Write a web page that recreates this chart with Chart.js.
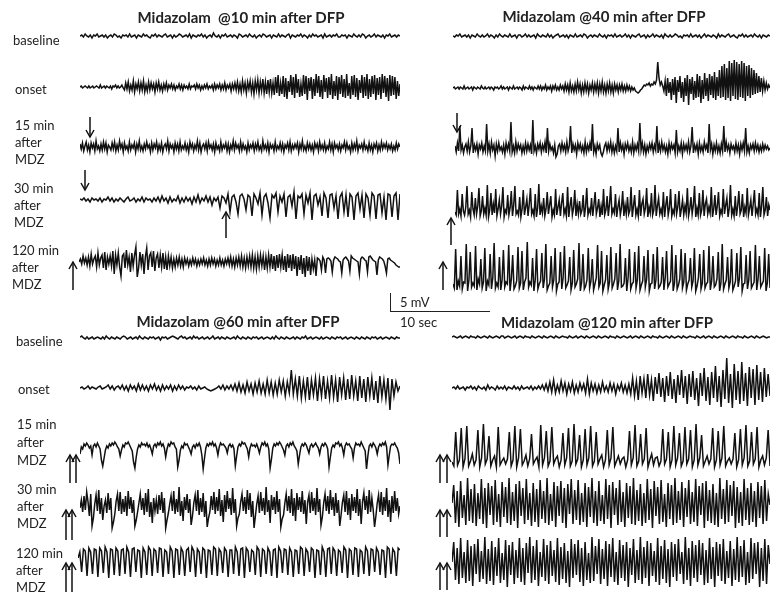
<!DOCTYPE html>
<html><head><meta charset="utf-8">
<script src="https://cdn.jsdelivr.net/npm/chart.js@4.4.1/dist/chart.umd.min.js"></script>
<style>
html,body{margin:0;padding:0;background:#fff;}
#fig{position:relative;width:770px;height:593px;overflow:hidden;background:#fff;font-family:Lato,"Open Sans",sans-serif;color:#222;}
.tr{position:absolute;}
.lab{position:absolute;font-size:13px;line-height:15px;white-space:pre;transform:translateY(-50%);}
.ttl{position:absolute;font-size:15px;font-weight:bold;white-space:pre;transform:translate(-50%,-50%);}
#arrows{position:absolute;left:0;top:0;}
</style></head>
<body><div id="fig"><svg id="arrows" width="770" height="593"></svg></div>
<script>
// ---- Traces (amplitude units: 0.25 mV, positive up; 5 mV scale bar = 20 units) ----
const TL_BASE=[0,1,-1,2,0,-1,1,-2,1,0,2,-1,0,1,-1,1,-2,0,1,-1,2,1,-1,0,-2,1,0,1,-1,2,-1,0,1,-2,1,0,-1,2,0,1,-1,-2,1,0,2,-1,1,0,-1,1,2,-1,0,1,-2,1,-1,0,2,1,-1,0,1,-1,2,-2,1,0,-1,1,0,2,-1,1,-2,0,1,-1,3,0,-1,1,-2,1,0,2,-1,0,1,-1,1,0,-2,2,1,-1,0,1,-1,2,0,-1,1,-2,0,1,-1,2,1,-1,0,1,-2,1,0,-1,2,-1,1,0,-1,1,2,-2,1,0,-1,1,0,2,-1,1,0,-2,1,-1,2,0,1,-1,0,1,-2,2,-1,0,1,-1,1,0,2,-1,-1,1,0,1,-2,1,0,-1,2,0,-1,1,-1,2,1,-2,0,1,-1,0,2,-1,1,0,-1,1,-2,1,0,2,-1,0,1,-1,1,0];
const TL_ONSET=[0,1,-1,0,1,0,-1,1,-1,0,1,-1,0,1,0,-1,2,-1,0,1,-1,1,0,-1,1,-2,1,0,2,-1,1,-1,0,2,-1,-3,4,-2,5,-4,2,-3,6,-5,3,-2,5,-4,4,-3,6,-5,2,-4,5,-3,4,-2,3,-5,4,-2,5,-3,2,-4,3,-2,4,-3,2,-1,3,-2,2,-3,1,-1,3,-2,2,-3,2,-1,1,-2,3,-2,1,0,2,-2,3,-1,2,-3,1,-2,2,-1,3,-2,1,-1,2,-3,3,-2,2,-1,3,-3,2,-2,4,-3,2,-1,3,-4,3,-2,4,-3,5,-4,3,-5,6,-3,4,-6,5,-2,6,-5,4,-7,6,-3,7,-6,5,-4,8,-6,5,-7,7,-5,8,-6,4,-8,10,-6,12,-9,4,-7,11,-10,9,-12,6,-5,12,-8,10,-11,13,-6,8,-10,3,-9,12,-7,11,-13,9,-4,10,-12,8,-9,13,-6,11,-10,7,-12,12,-5,9,-11,10,-8,13,-12,6,-9,11,-13,10,-7,12,-10,8,-11,13,-9,4,-12,11,-8,12,-10,9,-13,7,-6,12,-11,10,-9,13,-12,8,-10,11,-7,12,-13,9,-8,10,-12,13,-6,11,-10,9,-14,12,-9,11,-8,10,-12,6,-9,3];
const TL_15=[3,-2,4,-4,1,5,-3,2,-5,4,-1,3,-4,6,-2,1,-4,3,-3,5,-2,4,-5,2,0,-3,4,-2,5,-4,2,-3,6,-1,3,-5,4,-2,1,-4,5,-3,2,-1,4,-5,3,-2,6,-3,1,-4,3,-2,5,-1,2,-5,4,-3,3,-1,5,-4,2,-3,4,-5,1,3,-2,6,-4,3,-1,2,-5,4,-2,3,-4,5,-3,1,-2,4,-3,2,-5,5,-1,3,-4,2,-2,6,-3,4,-5,1,3,-2,4,-4,5,-1,2,-3,3,-5,4,-2,1,-4,5,-3,2,-1,4,-4,3,-5,2,-2,6,-3,4,-1,2,-4,5,-3,3,-2,1,-5,4,-3,2,-1,4,-4,3,-2,5,-3,1,-4,6,-2,2,-3,4,-5,3,-1,2,-4,5,-3,1,-2,4,-3,3,-5,2,-1,4,-3,5,-4,2,-2,3,-1,4,-5,3,-2,6,-3,1,-4,4,-2,3,-3,2,-5,4,-1,3,-4,5,-2,2,-3,4,-4,1,-2,5,-3,3,-5,4,-1,2,-3,3,-4,2,-1,5,-3,4,-2,1,-5,4,-3,3,-2,6,-4,2,-1,3,-3,5,-2,1,-4,4,-3,2,-5,3,-1,4,-4,2,-3,5,-2,3,-1,4,-3,2,-2,3,-4,1,-3,4,-2,3,0];
const TL_30=[1,0,2,-1,1,-2,2,0,1,-1,2,-2,1,0,3,-1,2,-2,1,-1,2,0,-2,1,3,-1,0,2,-2,1,-1,3,-2,2,0,1,-2,2,-1,3,-2,4,-1,2,-3,3,-2,1,-1,4,-3,2,-2,3,-1,2,-4,3,-2,5,-3,2,-1,4,-2,3,-5,2,-1,3,-8,4,2,-3,6,-12,3,5,-2,-14,4,6,1,-10,5,3,-16,6,2,-4,7,-15,3,6,-3,-18,5,2,7,-12,4,-2,6,-17,3,5,-6,8,-19,4,2,6,-14,5,-3,7,-20,4,6,-5,3,-16,7,2,-18,5,6,-8,4,-19,3,7,-12,5,-17,6,3,-20,4,7,-9,5,-18,6,2,-15,7,4,-19,5,6,-13,3,-20,6,5,-17,4,7,-20,6];
const TL_120=[0,3,-2,6,-1,4,-3,5,-4,8,-2,3,6,-5,9,-3,4,7,-6,10,-8,5,-2,6,-4,11,-12,7,-3,9,-5,-14,6,8,-6,12,-3,5,-10,9,-4,7,15,-15,-6,10,-3,8,-12,5,14,-8,6,9,-5,11,-9,4,8,-6,7,-5,9,-7,5,-8,6,-4,5,-6,3,-5,4,-3,5,-4,3,-5,4,-2,3,-4,2,-3,4,-2,3,-4,2,-3,3,-2,4,-3,2,-4,3,-3,4,-2,3,-4,2,-3,4,-3,2,-4,3,-2,4,-3,5,-4,3,-5,4,-3,5,-4,6,-5,4,-6,5,-4,6,-5,7,-6,5,-7,6,-5,7,-4,6,-8,5,-6,7,-5,8,-7,6,-9,7,-6,8,-5,7,-8,6,-10,8,-6,7,-9,8,-7,6,-14,5,-8,7,-12,4,-15,6,-9,5,-13,3,-7,2,-14,4,3,1,-8,5,2,-11,3,4,3,1,-10,2,5,4,3,1,0,-11,2,4,5,3,1,-9,6,4,3,2,1,0,-12,3,5,4,2,1,-10,5,6,4,2,1,0,-13,2,5,4,3,1,-4,-11,3,4,2,1,0,-1,-3,-4,-5,-5];
const TR_BASE=[0,-1,1,0,2,-1,0,1,-1,1,-2,1,0,-1,2,0,-1,1,-1,0,2,-1,1,0,-2,1,-1,2,0,-1,1,0,-1,2,-1,0,1,-2,1,1,-1,0,2,-1,1,-1,0,1,-2,2,0,-1,1,0,-1,2,-1,1,-2,0,1,2,-1,0,1,-1,1,-2,1,0,-1,2,-1,0,1,-1,2,1,-2,0,1,-1,1,0,-1,2,0,-1,1,-2,1,0,1,-1,2,-1,0,1,-1,0,2,-1,1,-2,1,0,-1,1,2,-1,0,1,-2,1,-1,0,2,-1,1,0,-1,1,-2,2,0,-1,1,-1,0,2,1,-1,0,-2,1,0,1,-1,2,-1,0,1,-1,1,-2,0,2,-1,1,0,-1,1,0,-2,2,-1,1,0,-1,1,2,-1,0,1,-1,-2,1,0,2,-1,1,-1,0,1,-1,2,0,-1,1,-2,1,0,-1,1,0];
const TR_ONSET=[0,1,-1,0,1,-1,1,0,-1,2,-1,0,1,-1,0,1,-2,1,0,-1,1,0,-1,2,0,-1,1,-1,0,1,-1,1,0,-2,1,0,1,-1,0,2,-1,1,-1,0,1,-2,1,0,-1,2,-1,0,1,-1,1,0,-2,2,-1,1,0,-1,2,-1,1,-2,1,0,-1,2,-1,2,-2,1,-1,3,-2,1,-1,2,-3,2,-1,3,-2,1,-2,3,-1,2,-3,4,-2,3,-4,5,-3,2,-4,4,-3,6,-2,4,-5,3,-4,5,-3,4,-5,3,-2,5,-4,4,-3,5,-5,4,-3,6,-4,3,-5,4,-3,5,-4,3,-5,4,-2,3,-4,3,-2,4,-3,2,-3,3,-2,2,-3,1,-2,0,-3,-4,-5,-4,-2,-1,1,3,2,4,3,5,2,4,3,6,4,8,26,10,3,6,2,-3,7,-8,10,-5,6,-12,9,-7,11,-15,8,-4,12,-10,6,-14,10,-8,13,-17,9,-6,11,-12,7,-10,14,-9,12,-15,8,-11,15,-8,10,-13,14,-7,12,-10,16,-12,11,-8,18,-10,22,-9,24,-12,20,-10,27,-13,25,-8,28,-11,26,-12,24,-9,27,-10,25,-13,22,-8,23,-10,20,-7,18,-6,15,-5,12,-4,10,-3,7,-2,5,-1,3,0];
const TR_15=[2,-4,5,-3,22,-2,3,-5,1,4,-3,6,-4,2,20,-5,3,-2,4,-6,3,-1,5,-4,2,-3,24,-3,4,-5,6,-2,3,-8,4,-3,5,-2,1,-4,3,-6,5,-2,4,-3,26,-4,2,-5,6,-3,4,-1,3,-5,2,-4,5,-3,4,-2,3,-6,28,-3,2,-5,4,-1,5,-4,3,-2,6,-5,20,-3,4,-2,1,-5,3,-9,-6,2,4,-3,5,-2,3,-4,6,-3,2,22,-5,4,-2,3,-6,5,-1,4,-3,2,-5,6,-4,3,-2,5,-3,24,-4,2,-6,4,-1,3,-5,-8,-4,2,5,-3,4,-2,6,-4,3,-5,2,-3,20,-4,5,-2,3,-6,4,-1,5,-3,2,-4,6,-5,3,-2,4,-3,25,-2,5,-4,3,-6,2,-3,4,-1,5,-4,3,-2,22,-5,4,-3,6,-2,3,-4,2,-6,5,-3,4,-1,3,-5,18,-4,2,-3,5,-6,4,-2,3,-3,6,-4,2,21,-5,3,-2,4,-6,5,-3,2,-4,6,-1,3,-5,24,-2,4,-6,3,-3,5,-4,2,-5,4,-3,22,-4,6,-2,3,-5,4,-1,2,-4,5,-3,3,-6,4,-2,5,-3,20,-4,2,-5,3,-1,4,-3,5,-2,3,-4,2,-3,4,-2,3,-1,2,-2,0];
const TR_30=[0,-3,22,-2,3,-4,18,1,-3,5,26,-2,2,-5,20,3,-3,14,-2,6,24,-4,1,16,-2,4,-3,27,-5,2,19,-3,8,-1,23,-4,3,12,-2,6,25,-5,2,-1,17,-3,4,21,-4,7,26,-2,1,-3,15,-5,3,22,-3,5,13,-4,8,24,-2,2,-4,18,-5,4,28,-3,6,-1,14,-4,3,20,-2,7,16,-5,2,-3,23,-3,5,12,-4,9,19,-2,3,-4,25,-5,6,15,-3,4,22,-4,8,-2,11,-2,2,17,-5,5,24,-3,3,-1,14,-4,7,20,-2,4,13,-5,6,-3,23,-3,2,16,-4,8,26,-2,3,-1,18,-5,5,12,-3,4,21,-4,7,-2,15,-2,2,25,-5,6,17,-3,3,-4,22,-4,8,13,-2,4,24,-5,5,-1,19,-3,2,27,-4,6,14,-2,3,-3,20,-5,7,16,-3,4,23,-4,2,-2,18,-2,5,21,-5,3,12,-3,6,-1,24,-4,3,15,-2,7,26,-5,4,-3,19,-3,2,22,-4,8,13,-2,5,-1,25,-5,3,17,-3,6,20,-4,2,-2,23,-2,7,14,-5,4,27,-3,3,-4,16,-4,6,21,-2,2,18,-5,5,-1,24,-3,4,12,-4,8,22,-2,3,-3,19,-5,6,25,-3,2,15,-4,7,2];
const TR_120=[0,-4,35,-6,3,-2,28,-5,2,1,40,-7,4,32,-3,1,-2,38,-6,5,0,25,-4,2,36,-7,3,-1,30,-5,6,41,-4,1,-3,27,-6,4,34,-3,2,0,39,-7,5,29,-5,-2,3,37,-4,1,33,-6,2,6,42,-3,2,-1,26,-7,4,35,-5,0,3,31,-4,5,40,-6,-2,1,28,-3,4,36,-7,0,2,32,-5,6,38,-4,-1,3,27,-6,1,34,-3,0,5,41,-7,2,30,-5,-2,4,36,-4,3,25,-6,0,6,39,-3,1,33,-7,-1,4,29,-5,2,37,-4,0,5,31,-6,3,40,-3,-2,1,26,-7,6,35,-5,0,2,32,-4,4,38,-6,-1,3,28,-3,5,34,-7,0,1,30,-5,4,37,-4,-2,2,27,-6,6,33,-3,0,3,39,-7,1,29,-5,-1,5,35,-4,2,31,-6,0,4,26,-3,3,36,-7,-2,6,30,-5,1,34,-4,0,2,38,-6,3,28,-3,-1,5,32,-7,1,40,-5,0,4,27,-4,2,35,-6,-2,3,31,-3,6,37,-7,0,1,29,-5,4,33,-4,-1,2,39,-6,5,28,-3,0,3,36,-7,1,30,-4];
const BL_BASE=[1,2,0,-1,1,-1,0,1,-1,0,1,0,-1,1,-1,2,0,-1,1,0,-1,1,0,-1,1,2,1,-1,0,1,-1,0,1,-1,2,0,-1,1,0,-1,1,0,1,-1,0,1,-2,1,0,1,-1,0,1,2,1,0,-1,1,2,0,1,-1,0,1,-1,2,0,1,-1,0,1,-1,0,1,-1,0,2,-1,0,1,-1,1,0,-1,1,0,-1,0,1,-1,2,0,-1,1,0,-1,1,0,-1,1,0,1,-1,0,1,-1,0,1,0,-1,1,-1,2,0,-1,1,0,-1,1,0,-1,0,1,-1,1,0,-1,1,0,2,-1,0,1,-1,0,1,0,-1,1,-1,0,1,0,-1,1,0,-1,1,0,1,-1,0,1,-1,0,1,0,-1,1,0,-1,1,0,-1,1,0,-1,1,0,1,-1,0,1,-1,0,1,0,-1,1,0,-1,1,0,0];
const BL_ONSET=[0,1,-1,0,2,-1,1,0,-1,1,2,-1,0,1,3,-1,2,-2,1,2,-1,3,-2,2,-3,3,-1,2,-3,4,-2,3,-2,2,-3,3,-1,4,-2,2,-3,3,-2,2,-1,3,-3,2,-2,3,-1,2,-2,1,0,2,-1,1,-2,2,-1,0,1,-1,-2,-3,-2,-1,0,2,-1,3,-2,2,-1,3,-2,4,-3,5,-4,3,-5,6,-3,4,-6,5,-4,7,-5,4,-6,8,-5,6,-7,5,-6,8,-4,7,-8,6,-5,18,-6,9,-8,12,-10,7,-9,11,-12,8,-7,10,-13,9,-8,12,-11,7,-10,13,-9,8,-14,11,-7,10,-12,9,-11,13,-8,7,-13,12,-10,9,-14,11,-8,10,-12,7,-15,12,-9,8,-11,10,-22,9,-8,6,-3,2];
const BL_15=[-2,5,3,8,6,9,7,4,6,-3,6,8,5,9,6,3,-8,-14,-6,2,6,4,8,6,9,7,10,8,5,3,-4,2,7,5,9,8,10,7,4,1,-10,-16,-5,3,7,5,9,7,8,6,9,5,7,3,-2,6,8,5,9,7,10,6,8,4,-5,3,8,6,10,8,9,5,3,-15,-8,2,6,4,9,7,8,5,2,-2,5,7,4,8,6,9,5,-3,-17,-6,4,8,6,9,7,10,6,8,4,-3,5,9,7,8,6,4,-1,6,8,5,7,3,-14,-4,5,8,6,10,8,9,6,3,-5,4,8,6,7,5,8,4,-1,5,9,7,10,6,8,3,-16,-7,4,8,6,9,7,10,8,5,2,-3,6,8,5,9,7,10,6,4,1,-12,-3,5,8,6,9,7,3,-1,6,8,5,7,9,6,4,-2,5,8,6,9,7,3,-15,-5,4,7,5,9,8,10,6,8,4,-3,6,9,7,8,5,3,-6,4,9,7,8,6,10,7,4,1,-17,-4,6,8,5,9,7,4,-2,5,8,6,9,7,10,5,-13,-3,6,8,7,9,6,4,-1,-12];
const BL_30=[0,8,-4,12,-2,16,6,-8,14,-18,-10,4,13,-3,18,-6,10,-12,2,8,-5,15,-2,10,-20,-14,-6,7,14,-3,16,-6,9,-4,12,-8,17,-1,11,-5,8,-18,-12,-4,5,14,-2,10,-7,15,-4,19,-9,6,-15,10,-3,8,-6,13,-2,16,-5,10,-20,-12,-5,4,12,-3,17,-6,9,-4,21,-8,7,-13,11,-2,14,-5,9,-17,-8,5,13,-3,18,-7,10,-4,15,-9,7,-19,-10,-4,12,-2,16,-6,11,-3,19,-8,8,-14,13,-4,17,-1,10,-7,20,-5,9,-18,-10,-6,6,14,-3,11,-6,18,-2,15,-9,7,-20,-8,4,12,-5,16,-3,10,-7,21,-4,8,-15,13,-2,11,-6,17,-4,9,-19,-11,-7,5,14,-3,12,-5,19,-8,10,-13,15,-2,11,-4,17,-6,8,-16,6,13,-5,16,-3,10,-7,20,-4,9,-17,-9,5,14,-3,12,-6,18,-2,11,-8,15,-5,8,-18,-7,6,13,-4,17,-7,10,-12,14,-3,11,-5,19,-8,9,-16,6,15,-2,12,-6,18,-4,10,-2,-19,-8,5,13,-4,16,-7,11,-3,20,-9,8,-14,12,-5,17,-3,10,-6,2];
const BL_120=[-4,2,-18,5,3,-22,6,2,-20,5,4,-23,6,3,-19,7,2,-24,5,4,-21,6,3,-22,4,5,-20,7,2,-23,5,6,-18,4,3,-24,6,2,-21,7,4,-22,5,3,-19,6,5,-23,4,2,-20,7,3,-24,5,4,-21,6,2,-22,4,6,-18,7,3,-23,5,2,-20,6,4,-24,4,3,-21,7,5,-22,5,2,-19,6,3,-23,4,4,-20,7,2,-22,5,6,-24,6,3,-18,4,2,-21,7,4,-23,5,3,-20,6,2,-22,4,5,-24,7,3,-19,5,4,-21,6,2,-23,4,3,-20,7,5,-22,5,2,-18,6,4,-24,4,3,-21,7,2,-23,5,6,-20,6,3,-22,4,2,-19,7,4,-24,5,3,-21,6,5,-23,4,2,-20,7,3,-22,5,4,-18,6,2,-21,4,3,-24,7,5,-20,5,2,-22,6,4];
const BR_BASE=[0,1,0,-1,0,1,-1,0,1,0,-1,1,0,0,-1,1,0,-1,0,1,0,-1,1,0,-1,0,1,0,-1,1,1,-1,0,1,0,-1,0,1,-1,0,1,0,-1,1,0,0,-1,1,0,-1,0,1,0,-1,1,0,-1,0,1,0,-1,1,0,-1,0,1,0,0,-1,1,0,-1,0,1,-1,0,1,0,-1,1,0,-1,0,1,0,-1,1,0,-1,0,1,0,-1,1,0,0,-1,1,0,-1,0,1,0,-1,0,1,-1,0,1,0,-1,1,0,-1,0,1,0,-1,1,0,0,-1,1,0,-1,0,1,0,-1,1,0,-1,0,1,0,-1,1,0,-1,0,1,0,0,-1,1,0,-1,0,1,-1,0,1,0,-1,1,0,-1,0,1,0,-1,1,0,-1,0,1,0,-1,1,0,0,-1,1,0,-1,0,1,0,-1,1,0,-1,0,1,0,-1,0,0];
const BR_ONSET=[0,1,-1,2,-1,0,1,-2,1,0,2,-1,1,-2,2,0,-1,1,-2,3,-1,1,0,-2,2,-1,1,-1,2,-2,1,0,-1,2,-1,1,-2,2,-1,0,1,-1,2,-2,1,-1,2,-1,3,-2,4,-3,6,-4,8,-5,3,-4,7,-3,5,-6,4,-3,6,-5,3,-4,5,-2,4,-5,9,-6,5,-3,4,-5,3,-4,6,-3,2,-4,5,-3,4,-6,3,-2,5,-4,3,-5,4,-6,10,-8,7,-12,12,-5,9,-10,14,-7,8,-13,11,-6,15,-9,10,-14,12,-8,16,-11,9,-15,13,-7,18,-10,12,-16,14,-9,17,-12,10,-18,15,-8,20,-13,11,-17,16,-10,22,-14,12,-19,18,-11,30,-15,14,-20,24,-12,17,-16,26,-13,15,-18,21,-10,19,-17,23,-12,16,-14,20,-9,14,-8];
const BR_15=[0,-4,30,-3,2,34,-5,3,36,-4,1,8,-3,2,32,-5,4,38,-2,3,26,-4,2,6,-5,35,-3,1,4,-2,3,30,-4,2,36,-5,4,33,-3,1,7,-4,3,28,-2,2,5,-5,37,-3,4,31,-4,1,35,-2,3,6,-5,2,29,-3,4,34,-4,1,38,-2,3,27,-5,2,33,-3,4,36,-4,1,30,-2,3,7,-5,2,32,-3,4,35,-4,1,6,-2,3,5,-5,2,31,-3,4,37,-4,1,28,-2,3,34,-5,2,8,-3,4,5,-4,1,33,-2,3,30,-5,2,36,-3,4,29,-4,1,35,-2,3,32,-5,2,38,-3,4,27,-4,1,6,-2,3,34,-5,2,31,-3,4,36,-4,1,4,-2,3,29,-5,2,33,-3,4,37,-4,1,30,-2,3,35,-5,2,6,-3,4,32,-4];
const BR_30=[0,18,-20,12,-24,22,-15,8,-22,25,-18,14,-20,19,-23,10,-16,24,-21,15,-25,20,-12,17,-22,23,-19,9,-24,21,-14,16,-20,25,-22,11,-18,19,-25,22,-13,15,-21,24,-17,10,-23,20,-19,14,-24,23,-16,12,-20,25,-22,9,-18,21,-24,17,-13,22,-20,15,-25,19,-11,24,-21,13,-17,23,-22,10,-19,20,-24,16,-14,25,-20,12,-23,22,-18,8,-21,24,-16,18,-25,21,-12,15,-22,23,-19,11,-24,20,-15,17,-21,25,-22,13,-18,19,-23,10,-20,24,-17,14,-25,22,-13,16,-21,23,-19,9,-24,20,-16,18,-22,25,-20,12,-17,21,-24,15,-14,23,-21,11,-19,24,-23,17,-12,20,-25,22,-18,13,-20,19,-22,10,-24,25,-16,14,-21,23,-19,18,-13,22,-25,16,-20,11,-23,24,-17,15,-22,20,-19,12,-24,21,-15,17,-21,23,-18,9,-2];
const BR_120=[0,20,-18,14,-22,24,-16,10,-21,22,-19,16,-24,18,-12,23,-20,11,-17,25,-22,13,-19,21,-23,15,-14,24,-21,9,-18,22,-25,17,-13,20,-22,12,-16,24,-20,14,-23,19,-11,25,-21,16,-18,22,-24,10,-15,23,-19,17,-22,21,-14,12,-20,24,-23,15,-17,19,-21,11,-25,23,-16,18,-13,22,-20,14,-24,20,-18,9,-21,25,-19,16,-12,23,-22,13,-17,21,-24,18,-15,24,-20,10,-23,22,-16,17,-19,20,-25,14,-13,23,-21,12,-18,25,-22,15,-16,21,-24,19,-14,11,-20,24,-23,16,-17,22,-21,13,-25,20,-15,18,-19,23,-12,10,-22,25,-18,14,-24,21,-16,17,-20,22,-13,19,-23,12,-21,24,-17,15,-25,20,-14,18,-19,23,-22,11,-16,21,-24,13,-18,25,-20,16,-15,22,-23,10,-21,24,-17,19,-12,20,-25,14,-19,23,-22,17,-2];

// ---- Text ----
const TITLES=["Midazolam  @10 min after DFP","Midazolam @40 min after DFP","Midazolam @60 min after DFP","Midazolam @120 min after DFP"];
const ROW_LABELS=[["baseline"],["onset"],["15 min","after","MDZ"],["30 min","after","MDZ"],["120 min","after","MDZ"]];
const SCALE_LABELS=["5 mV","10 sec"];

// ---- Layout (positions only) ----
const TRACES=[
 [TL_BASE,80,400,36],[TL_ONSET,80,400,87],[TL_15,80,400,147],[TL_30,80,400,200],[TL_120,79,400,262],
 [TR_BASE,453,770,36],[TR_ONSET,453,770,88],[TR_15,455,770,148],[TR_30,455,770,212],[TR_120,453,770,284],
 [BL_BASE,80,400,338],[BL_ONSET,80,400,388],[BL_15,80,400,452],[BL_30,80,400,508],[BL_120,78,400,554],
 [BR_BASE,452,770,337],[BR_ONSET,452,770,388],[BR_15,452,770,462],[BR_30,452,770,503],[BR_120,452,770,562]
];
const TITLE_POS=[[241,17],[604,16],[238,321],[607,322]];
const LABEL_POS=[
 [[13,[40]],[15,[89]],[15,[125,142,159]],[14,[188,205,222]],[12,[250,267,284]]],
 [[16,[341]],[18,[389]],[17,[424,442,460]],[17,[489,506,523]],[16,[553,570,587]]]
];
const ARROWS=[ // x, tail y, head y
 [90,117,137],[85,170,190],[226,238,212],[73,290,262],
 [457,113,132],[451,245,218],[443,290,262],
 [70,483,455],[76,483,455],[66,540,510],[72,540,510],[66,592,563],[72,592,563],
 [440,483,455],[447,483,455],[440,537,510],[447,537,510],[440,590,563],[447,590,563]
];

const fig=document.getElementById('fig');
TRACES.forEach(([vals,x0,x1,yc])=>{
  const c=document.createElement('canvas');
  const w=x1-x0,h=100;
  c.width=w;c.height=h;c.className='tr';
  c.style.left=x0+'px';c.style.top=(yc-h/2)+'px';c.style.width=w+'px';c.style.height=h+'px';
  fig.appendChild(c);
  new Chart(c,{type:'line',
    data:{labels:vals.map((_,i)=>i),datasets:[{data:vals,borderColor:'#111',borderWidth:1.5,pointRadius:0,tension:0,fill:false}]},
    options:{responsive:false,animation:false,events:[],layout:{padding:0},
      plugins:{legend:{display:false},tooltip:{enabled:false},title:{display:false}},
      scales:{x:{display:false},y:{display:false,min:-50,max:50}}}});
});
TITLES.forEach((t,i)=>{const d=document.createElement('div');d.className='ttl';d.textContent=t;d.style.left=TITLE_POS[i][0]+'px';d.style.top=TITLE_POS[i][1]+'px';fig.appendChild(d);});
LABEL_POS.forEach(panel=>panel.forEach(([x,ys],r)=>ys.forEach((y,k)=>{const d=document.createElement('div');d.className='lab';d.textContent=ROW_LABELS[r][k];d.style.left=x+'px';d.style.top=y+'px';fig.appendChild(d);})));
const sb=document.createElement('div');sb.style.cssText='position:absolute;left:390px;top:293px;width:99px;height:18px;border-left:1.5px solid #222;border-bottom:1.5px solid #222;';fig.appendChild(sb);
[[400,302],[400,322]].forEach(([x,y],i)=>{const d=document.createElement('div');d.className='lab';d.textContent=SCALE_LABELS[i];d.style.left=x+'px';d.style.top=y+'px';fig.appendChild(d);});
const svg=document.getElementById('arrows');const NS='http://www.w3.org/2000/svg';
ARROWS.forEach(([x,y1,y2])=>{
  const dir=Math.sign(y2-y1);
  const l=document.createElementNS(NS,'line');l.setAttribute('x1',x);l.setAttribute('y1',y1);l.setAttribute('x2',x);l.setAttribute('y2',y2);
  l.setAttribute('stroke','#111');l.setAttribute('stroke-width','1.5');svg.appendChild(l);
  const p=document.createElementNS(NS,'polyline');
  p.setAttribute('points',`${x-4},${y2-dir*7} ${x},${y2} ${x+4},${y2-dir*7}`);
  p.setAttribute('fill','none');p.setAttribute('stroke','#111');p.setAttribute('stroke-width','1.5');svg.appendChild(p);
});
</script></body></html>
